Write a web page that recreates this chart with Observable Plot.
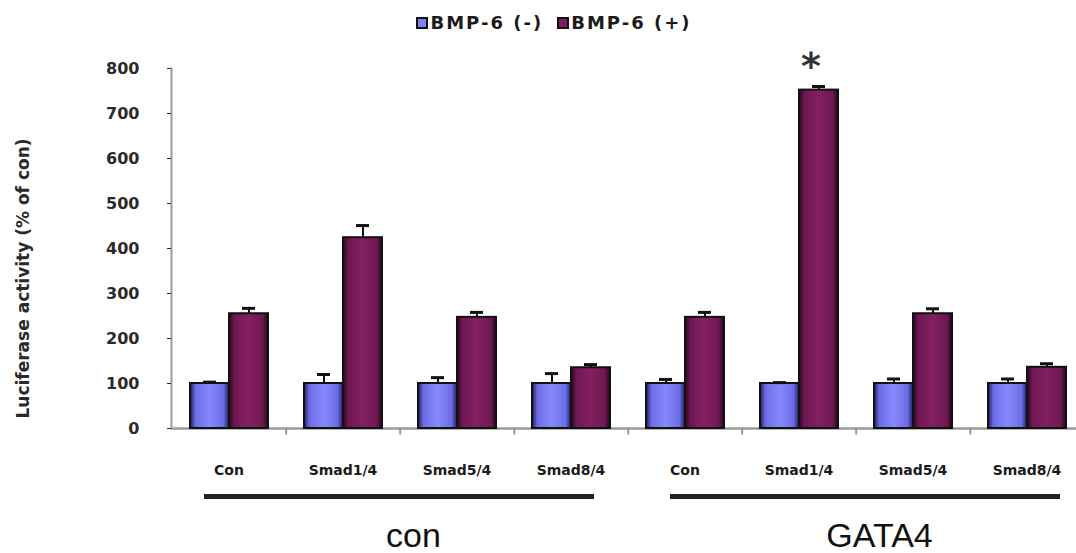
<!DOCTYPE html>
<html><head><meta charset="utf-8">
<script src="https://cdn.jsdelivr.net/npm/d3@7"></script>
<script src="https://cdn.jsdelivr.net/npm/@observablehq/plot@0.6"></script>
<style>
body{margin:0;background:#fff;font-family:"DejaVu Sans",sans-serif;}
#legend{height:45px;display:flex;justify-content:center;align-items:center;gap:14px;padding-left:32px;font-weight:bold;font-size:18px;color:#1a1a1a;letter-spacing:2px;}
.item{display:flex;align-items:center;gap:2px;}
.sw{width:12px;height:12px;border:2px solid #111;box-sizing:border-box;}
#chart svg,#groups svg{display:block;overflow:visible;}
</style></head><body>
<svg width="0" height="0" style="position:absolute"><defs>
<linearGradient id="gBlue" x1="0" x2="1" y1="0" y2="0">
<stop offset="0" stop-color="#1c1c55"/><stop offset="0.14" stop-color="#6c6ce6"/><stop offset="0.5" stop-color="#8888fd"/><stop offset="0.86" stop-color="#6c6ce6"/><stop offset="1" stop-color="#1c1c55"/>
</linearGradient>
<linearGradient id="gMaroon" x1="0" x2="1" y1="0" y2="0">
<stop offset="0" stop-color="#2a0820"/><stop offset="0.14" stop-color="#6e1851"/><stop offset="0.5" stop-color="#851f63"/><stop offset="0.86" stop-color="#6e1851"/><stop offset="1" stop-color="#2a0820"/>
</linearGradient>
</defs></svg>
<div id="legend"></div>
<div id="chart"></div>
<div id="groups"></div>
<script>
const categories = ["Con", "Smad1/4", "Smad5/4", "Smad8/4"];
const groups = ["con", "GATA4"];
const series = ["BMP-6 (-)", "BMP-6 (+)"];
const seriesColors = ["#8080f5", "#7d1d5e"];
const seriesFills = ["url(#gBlue)", "url(#gMaroon)"];
const minusValues = [100, 100, 100, 100, 100, 100, 100, 100];
const minusErrors = [3, 20, 13, 22, 9, 2, 10, 10];
const plusValues = [255, 424, 247, 135, 247, 752, 255, 136];
const plusErrors = [12, 27, 11, 7, 11, 8, 11, 8];
const yTicks = [0, 100, 200, 300, 400, 500, 600, 700, 800];
const yLabel = "Luciferase activity (% of con)";
const starMarks = [{group: "GATA4", category: "Smad1/4", series: "BMP-6 (+)", text: "*"}];

const ids = groups.flatMap(g => categories.map(c => g + "|" + c));
const rows = [];
groups.forEach((g, gi) => categories.forEach((c, ci) => {
  const i = gi * categories.length + ci;
  rows.push({id: g + "|" + c, series: series[0], value: minusValues[i], err: minusErrors[i]});
  rows.push({id: g + "|" + c, series: series[1], value: plusValues[i], err: plusErrors[i]});
}));
const stars = starMarks.map(s => {
  const r = rows.find(d => d.id === s.group + "|" + s.category && d.series === s.series);
  return {...r, text: s.text};
});

// legend
const legend = document.getElementById("legend");
series.forEach((s, i) => {
  const it = document.createElement("div"); it.className = "item";
  const sw = document.createElement("span"); sw.className = "sw"; sw.style.background = seriesColors[i];
  const tx = document.createElement("span"); tx.textContent = s;
  it.append(sw, tx); legend.append(it);
});

const font = "DejaVu Sans, sans-serif";
const chart = Plot.plot({
  width: 1076, height: 445,
  marginLeft: 170, marginRight: -9, marginTop: 23, marginBottom: 62,
  style: {fontFamily: font, background: "#fff", overflow: "visible"},
  fx: {domain: ids, paddingInner: 0.31, paddingOuter: 0.155, label: null},
  x: {domain: series, padding: 0, axis: null},
  y: {domain: [0, 800], label: null},
  color: {domain: series, range: seriesFills},
  marks: [
    Plot.ruleY([0], {stroke: "#9a9a9a", strokeWidth: 2.5, insetLeft: -18, insetRight: -18}),
    Plot.frame({anchor: "right", dx: 17.7, insetTop: 360, insetBottom: -5, stroke: "#9a9a9a", strokeWidth: 2}),
    Plot.frame({anchor: "left", facetAnchor: "left", dx: -18, stroke: "#9a9a9a", strokeWidth: 2}),
    Plot.barY(rows, {fx: "id", x: "series", y: "value", fill: "series", stroke: "#111", strokeWidth: 2}),
    Plot.ruleX(rows, {fx: "id", x: "series", y1: "value", y2: d => d.value + d.err, stroke: "#111", strokeWidth: 2}),
    Plot.tickY(rows, {fx: "id", x: "series", y: d => d.value + d.err, stroke: "#111", strokeWidth: 3, insetLeft: 13, insetRight: 13}),
    Plot.text(stars, {fx: "id", x: "series", y: d => d.value + d.err, text: "text", dx: -8, dy: -20, fontSize: 38, fontWeight: "bold", fill: "#333"}),
    Plot.axisY({ticks: yTicks, tickSize: 4, tickPadding: 28, dx: -18, fontSize: 16, fontWeight: "bold", color: "#2a2a2a", label: null}),
    Plot.text([yLabel], {fx: () => ids[0], text: d => d, frameAnchor: "left", textAnchor: "middle", rotate: -90, dx: -166, dy: 30, fontSize: 17, letterSpacing: 1.2, fontWeight: "bold", fill: "#2a2a2a"}),
    Plot.axisFx({anchor: "bottom", tickSize: 0, tickPadding: 37, tickFormat: id => id.split("|")[1], fontSize: 14, fontWeight: "bold", color: "#1a1a1a", label: null})
  ]
});
document.getElementById("chart").append(chart);

const groupPlot = Plot.plot({
  width: 1076, height: 63,
  marginLeft: 166, marginRight: -22, marginTop: 0, marginBottom: 0,
  style: {fontFamily: "Liberation Sans, Arial, sans-serif", background: "#fff", overflow: "visible"},
  x: {domain: groups, paddingInner: 0.163, paddingOuter: 0.0815, axis: null},
  y: {axis: null},
  marks: [
    Plot.barY(groups, {x: d => d, fill: "#222", insetTop: 4, insetBottom: 54}),
    Plot.text(groups, {x: d => d, text: d => d, frameAnchor: "bottom", lineAnchor: "middle", dx: 14, dy: -17, fontSize: 34, letterSpacing: 3, fill: "#111"})
  ]
});
document.getElementById("groups").append(groupPlot);
</script>
</body></html>
